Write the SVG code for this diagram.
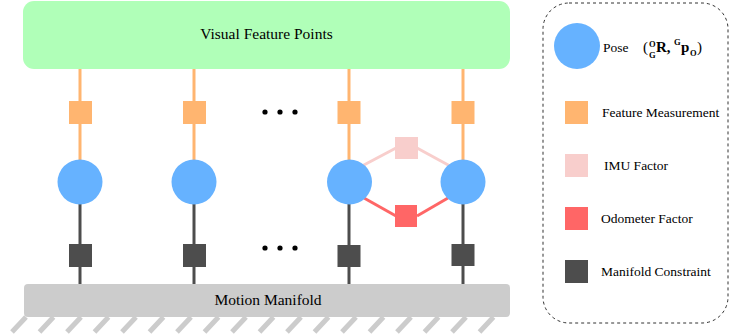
<svg xmlns="http://www.w3.org/2000/svg" width="731" height="336" viewBox="0 0 731 336">
<style>
text{font-family:"Liberation Serif","Times New Roman",serif;fill:#000}
.pose{fill:#66B2FF}
.feat{fill:#FFB570}
.imu{fill:#F8CECC}
.odo{fill:#FF6666}
.man{fill:#4D4D4D}
.lo{stroke:#FFB570;stroke-width:3}
.ld{stroke:#4D4D4D;stroke-width:3}
.li{stroke:#F8CECC;stroke-width:3}
.lr{stroke:#FF6666;stroke-width:3}
.h{stroke:#CCCCCC;stroke-width:5}
.dot{fill:#000}
.f{font-size:15px}
.fb{font-size:15px;font-weight:bold}
.fs{font-size:8.5px;font-weight:bold}
</style>
<g id="edges">
<line class="lo" x1="80" y1="69" x2="80" y2="160"/>
<line class="lo" x1="194" y1="69" x2="194" y2="160"/>
<line class="lo" x1="349" y1="69" x2="349" y2="160"/>
<line class="lo" x1="463" y1="69" x2="463" y2="160"/>
<line class="ld" x1="80" y1="204" x2="80" y2="285"/>
<line class="ld" x1="194" y1="204" x2="194" y2="285"/>
<line class="ld" x1="349" y1="204" x2="349" y2="285"/>
<line class="ld" x1="463" y1="204" x2="463" y2="285"/>
<line class="li" x1="362" y1="166" x2="396" y2="148"/>
<line class="li" x1="417" y1="148" x2="450" y2="166"/>
<line class="lr" x1="364" y1="198" x2="396" y2="216"/>
<line class="lr" x1="417" y1="216" x2="448" y2="198"/>
</g>
<g id="visual-feature-points">
<rect x="23" y="1" width="487" height="68" rx="11" fill="#B0FFB8"/>
<text x="266.5" y="39" font-size="15.5" text-anchor="middle">Visual Feature Points</text>
</g>
<g id="motion-manifold">
<g>
<line class="h" x1="12" y1="332" x2="26" y2="317"/>
<line class="h" x1="39.5" y1="332" x2="53.5" y2="317"/>
<line class="h" x1="67" y1="332" x2="81" y2="317"/>
<line class="h" x1="94.5" y1="332" x2="108.5" y2="317"/>
<line class="h" x1="122" y1="332" x2="136" y2="317"/>
<line class="h" x1="149.5" y1="332" x2="163.5" y2="317"/>
<line class="h" x1="177" y1="332" x2="191" y2="317"/>
<line class="h" x1="204.5" y1="332" x2="218.5" y2="317"/>
<line class="h" x1="232" y1="332" x2="246" y2="317"/>
<line class="h" x1="259.5" y1="332" x2="273.5" y2="317"/>
<line class="h" x1="287" y1="332" x2="301" y2="317"/>
<line class="h" x1="314.5" y1="332" x2="328.5" y2="317"/>
<line class="h" x1="342" y1="332" x2="356" y2="317"/>
<line class="h" x1="369.5" y1="332" x2="383.5" y2="317"/>
<line class="h" x1="397" y1="332" x2="411" y2="317"/>
<line class="h" x1="424.5" y1="332" x2="438.5" y2="317"/>
<line class="h" x1="452" y1="332" x2="466" y2="317"/>
<line class="h" x1="479.5" y1="332" x2="493.5" y2="317"/>
</g>
<rect x="24" y="284" width="486" height="33" rx="4" fill="#CCCCCC"/>
<text x="268" y="305" font-size="15.5" text-anchor="middle">Motion Manifold</text>
</g>
<g id="feat-1"><rect class="feat" x="69" y="101" width="23" height="23"/></g>
<g id="feat-2"><rect class="feat" x="183" y="101" width="23" height="23"/></g>
<g id="feat-3"><rect class="feat" x="337.5" y="101" width="23" height="23"/></g>
<g id="feat-4"><rect class="feat" x="451.5" y="101" width="23" height="23"/></g>
<g id="pose-1"><circle class="pose" cx="80" cy="182" r="22.5"/></g>
<g id="pose-2"><circle class="pose" cx="194" cy="182" r="22.5"/></g>
<g id="pose-3"><circle class="pose" cx="349.5" cy="182" r="22.5"/></g>
<g id="pose-4"><circle class="pose" cx="463" cy="182" r="22.5"/></g>
<g id="imu-factor"><rect class="imu" x="395" y="137" width="23" height="22"/></g>
<g id="odometer-factor"><rect class="odo" x="395" y="205" width="22" height="22"/></g>
<g id="man-1"><rect class="man" x="69" y="244" width="23" height="23"/></g>
<g id="man-2"><rect class="man" x="183" y="244" width="23" height="23"/></g>
<g id="man-3"><rect class="man" x="337.5" y="245" width="23" height="22"/></g>
<g id="man-4"><rect class="man" x="451.5" y="244" width="23" height="22"/></g>
<g id="dots-top">
<circle class="dot" cx="265" cy="112" r="2.6"/>
<circle class="dot" cx="280" cy="112" r="2.6"/>
<circle class="dot" cx="295" cy="112" r="2.6"/>
</g>
<g id="dots-bottom">
<circle class="dot" cx="265" cy="248" r="2.6"/>
<circle class="dot" cx="280" cy="248" r="2.6"/>
<circle class="dot" cx="295" cy="248" r="2.6"/>
</g>
<g id="legend">
<rect x="543" y="3" width="185" height="320" rx="26" fill="none" stroke="#333333" stroke-width="1" stroke-dasharray="3 3"/>
<circle class="pose" cx="577" cy="46" r="23"/>
<text x="603" y="52" font-size="13.5">Pose</text>
<text class="f" x="643" y="52">(</text>
<text class="fs" x="649" y="46.5">O</text>
<text class="fs" x="649" y="57.5">G</text>
<text class="fb" x="656" y="52">R,</text>
<text class="fs" x="674" y="45">G</text>
<text class="fb" x="681" y="52">p</text>
<text class="fs" x="690" y="56">O</text>
<text class="f" x="697" y="52">)</text>
<rect class="feat" x="565" y="101" width="23" height="23"/>
<text x="602" y="117" font-size="13.5">Feature Measurement</text>
<rect class="imu" x="565" y="154" width="23" height="23"/>
<text x="604" y="170" font-size="13.5">IMU Factor</text>
<rect class="odo" x="565" y="207" width="23" height="23"/>
<text x="601" y="223" font-size="13.5">Odometer Factor</text>
<rect class="man" x="565" y="260" width="23" height="23"/>
<text x="601" y="276" font-size="13.5">Manifold Constraint</text>
</g>
</svg>
